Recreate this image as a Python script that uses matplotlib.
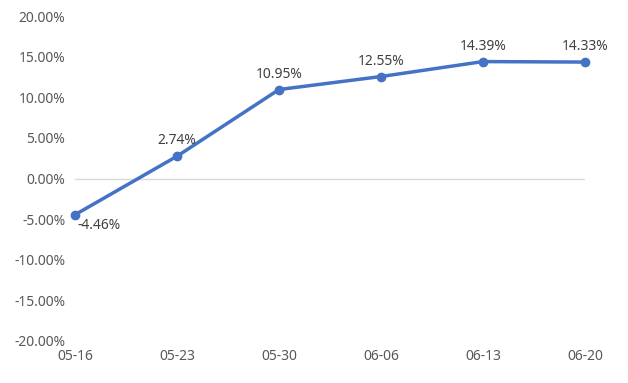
import matplotlib
matplotlib.use("Agg")
import matplotlib.pyplot as plt
from matplotlib.ticker import FuncFormatter

dates = ["05-16", "05-23", "05-30", "06-06", "06-13", "06-20"]
values = [-4.46, 2.74, 10.95, 12.55, 14.39, 14.33]
yticks = [-20, -15, -10, -5, 0, 5, 10, 15, 20]

plt.rcParams['font.family'] = ['Noto Sans', 'DejaVu Sans']
fig = plt.figure(figsize=(6.28, 3.83), dpi=100)
ax = fig.add_axes([75/628, 1 - 341/383, (585 - 75)/628, (341 - 16)/383])

x = list(range(len(dates)))
color = "#4472C4"
ax.plot(x, values, color=color, lw=2.5, marker='o', ms=6, zorder=3, clip_on=False)
ax.axhline(0, color="#D9D9D9", lw=1, zorder=1)

for i, v in enumerate(values):
    if i == 0:
        ax.annotate(f"{v:.2f}%", (i, v), xytext=(17, -8), textcoords="offset points",
                    ha='center', va='center', fontsize=10, color="#404040")
    else:
        ax.annotate(f"{v:.2f}%", (i, v), xytext=(0, 11), textcoords="offset points",
                    ha='center', va='center', fontsize=10, color="#404040")

ax.set_xlim(0, len(dates) - 1)
ax.set_ylim(-20, 20)
ax.set_yticks(yticks)
ax.yaxis.set_major_formatter(FuncFormatter(lambda v, p: f"{v:.2f}%"))
ax.set_xticks(x)
ax.set_xticklabels(dates)
for s in ax.spines.values():
    s.set_visible(False)
ax.tick_params(axis='both', length=0, labelsize=10, labelcolor="#595959")
ax.tick_params(axis='y', pad=7)
ax.tick_params(axis='x', pad=6)

fig.savefig("out.png", dpi=100)
